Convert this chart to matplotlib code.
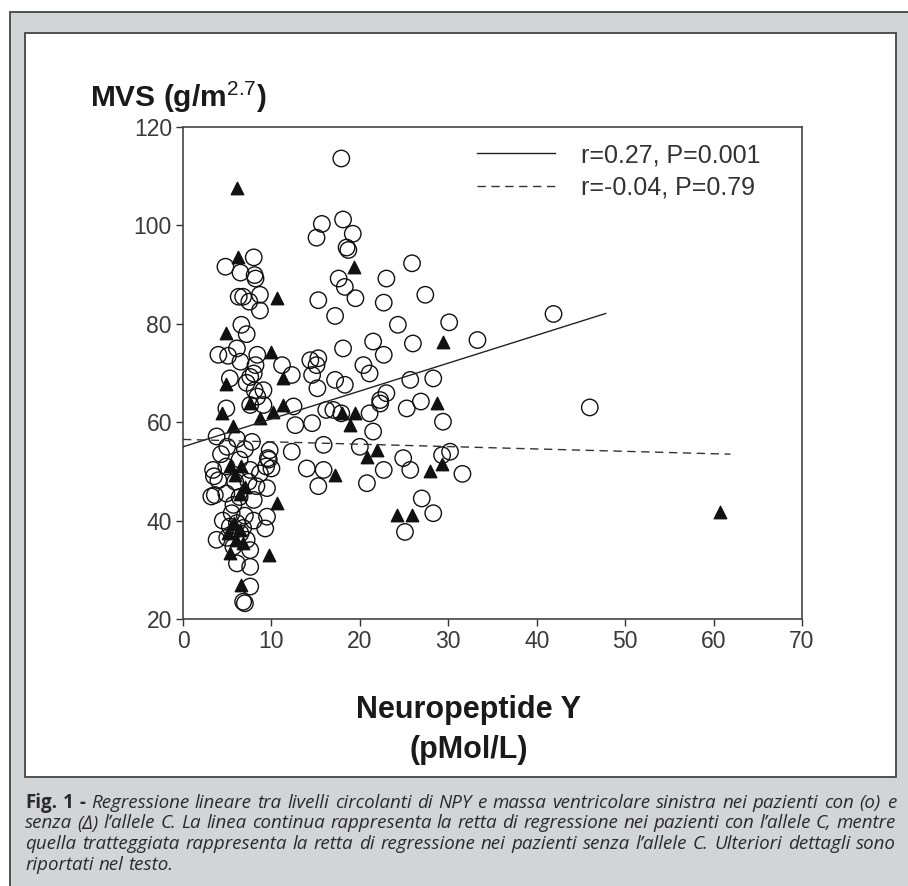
import matplotlib
matplotlib.use("Agg")
import matplotlib.pyplot as plt
from matplotlib.patches import Rectangle

plt.rcParams['font.family'] = ['Liberation Sans', 'DejaVu Sans']
plt.rcParams['mathtext.fontset'] = 'custom'
plt.rcParams['mathtext.rm'] = 'Liberation Sans'

# --- data ---
# patients with the C allele (open circles)
c_x = [17.9, 15.7, 15.1, 18.1, 19.2, 18.5, 18.7, 25.9, 8.0, 4.8, 6.5, 8.1, 8.2,
       23.0, 17.6, 18.3, 19.5, 15.3, 22.7, 27.4, 6.3, 6.8, 8.7, 7.5, 8.7, 17.2, 24.3,
       6.6, 7.2, 26.0, 21.5, 18.1, 22.7, 4.0, 5.1, 6.1, 6.5, 8.4, 8.2, 11.2,
       14.4, 15.3, 15.1, 8.0, 20.4, 21.1, 12.3, 14.6, 15.2, 17.2, 18.3, 5.3, 7.2, 7.6, 8.1, 25.7, 23.0, 22.3,
       30.1, 33.3, 41.9, 28.3, 26.9, 46.0,
       9.1, 8.4, 7.6, 9.1, 4.9, 12.5, 16.2, 12.7, 14.6,
       17.0, 17.9, 21.5, 25.3, 22.3, 21.1, 3.8, 7.8, 6.1, 12.3, 15.9, 20.0, 24.9, 25.7, 22.7,
       9.8, 9.6, 9.4, 14.0, 15.9, 15.3, 20.8,
       29.4, 29.3, 30.2, 31.6, 27.0, 28.3, 25.1,
       3.4, 4.9, 6.4, 7.6, 8.7, 9.7, 10.0, 4.0, 5.9, 7.4, 9.5, 4.9, 6.4, 3.6, 5.7, 8.0, 3.2,
       9.5, 9.3, 3.8, 5.3, 6.1, 6.5, 5.7, 7.2, 7.6, 6.1, 7.6, 7.6, 6.8, 7.0,
       5.0, 6.8, 5.5, 7.0, 8.0, 4.5, 8.3, 4.3, 7.0, 5.0, 3.5]
c_y = [113.6, 100.3, 97.5, 101.2, 98.3, 95.5, 95.0, 92.3, 93.5, 91.6, 90.4, 89.9, 89.2,
       89.2, 89.2, 87.5, 85.2, 84.8, 84.3, 85.9, 85.5, 85.5, 85.9, 84.5, 82.7, 81.6, 79.8,
       79.8, 77.9, 76.0, 76.4, 75.0, 73.7, 73.7, 73.5, 75.0, 72.3, 73.7, 71.6, 71.6,
       72.6, 73.0, 71.6, 69.9, 71.6, 69.9, 69.6, 69.6, 66.9, 68.6, 67.6, 68.9, 68.0, 69.2, 66.5, 68.6, 65.9, 64.5,
       80.3, 76.7, 82.0, 68.9, 64.2, 63.0,
       66.5, 65.2, 63.5, 63.5, 62.8, 63.2, 62.5, 59.4, 59.8,
       62.5, 61.8, 58.1, 62.8, 63.8, 61.8, 57.1, 56.0, 56.6, 54.0, 55.4, 55.0, 52.7, 50.3, 50.3,
       54.3, 52.7, 51.0, 50.6, 50.3, 47.0, 47.6,
       60.1, 53.3, 54.0, 49.5, 44.5, 41.5, 37.7,
       50.3, 51.0, 52.4, 50.3, 49.6, 52.4, 50.6, 48.2, 47.9, 47.9, 46.6, 45.5, 44.8, 45.2, 43.2, 44.2, 44.9,
       40.8, 38.4, 36.1, 38.8, 39.5, 37.4, 34.7, 36.1, 34.0, 31.3, 30.6, 26.6, 23.5, 23.2,
       36.5, 38.5, 41.5, 41.0, 40.0, 40.0, 47.0, 53.5, 54.5, 55.0, 49.0]

# patients without the C allele (filled triangles)
t_x = [6.1, 6.2, 19.3, 10.6, 4.9, 10.0, 11.3, 4.9, 29.4,
       4.4, 7.6, 8.7, 10.2, 11.3, 5.6,
       18.0, 19.4, 18.9, 21.9, 20.8, 17.2,
       28.7, 29.3, 27.9, 24.2, 25.9, 60.7,
       5.3, 6.6, 5.9, 7.0, 6.4, 10.6, 5.1, 5.3, 9.7, 6.6,
       6.0, 6.5, 5.8, 6.8]
t_y = [107.7, 93.5, 91.5, 85.2, 78.1, 74.3, 68.9, 67.8, 76.2,
       61.8, 64.0, 60.8, 62.0, 63.5, 59.3,
       61.8, 61.8, 59.4, 54.3, 53.0, 49.3,
       64.0, 51.6, 50.1, 41.1, 41.1, 41.7,
       51.0, 51.0, 49.3, 46.9, 45.5, 43.5, 37.4, 33.4, 33.0, 26.9,
       36.0, 38.0, 39.5, 35.5]

# regression lines (end points)
fit_c_x = [0, 47.8]
fit_c_y = [55.0, 82.1]
fit_nc_x = [0, 61.9]
fit_nc_y = [56.5, 53.5]

labels = ["r=0.27, P=0.001", "r=-0.04, P=0.79"]
x_ticks = [0, 10, 20, 30, 40, 50, 60, 70]
y_ticks = [20, 40, 60, 80, 100, 120]

W, H = 908, 886
fig = plt.figure(figsize=(W / 100, H / 100), dpi=100)
fig.patch.set_facecolor("white")

# grey page panel + white chart panel
fig.patches.append(Rectangle((10 / W, -0.05), 1.0, 1.05 - 12 / H, transform=fig.transFigure,
                             facecolor="#d3d4d6", edgecolor="#444444", lw=1.3, zorder=-3))
fig.patches.append(Rectangle((25 / W, 1 - 777 / H), (896 - 25) / W, (777 - 33) / H,
                             transform=fig.transFigure, facecolor="white",
                             edgecolor="#444444", lw=1.3, zorder=-2))

ax = fig.add_axes([183 / W, 1 - 619 / H, (802 - 183) / W, (619 - 127) / H])
ax.set_xlim(0, 70)
ax.set_ylim(20, 120)

ax.scatter(c_x, c_y, s=140, facecolors="none", edgecolors="#111111", linewidths=1.0, zorder=2)
ax.scatter(t_x, t_y, marker="^", s=80, color="#111111", zorder=3)

l1, = ax.plot(fit_c_x, fit_c_y, color="#222222", lw=1.0, zorder=4)
l2, = ax.plot(fit_nc_x, fit_nc_y, color="#333333", lw=1.0, dashes=(6, 4), zorder=4)

ax.set_xticks(x_ticks)
ax.set_yticks(y_ticks)
ax.tick_params(direction="out", length=5, width=1.0, color="#333333",
               labelsize=16.5, labelcolor="#3a3a3a", pad=3)
for sp in ax.spines.values():
    sp.set_color("#444444")
    sp.set_linewidth(1.2)

ax.legend([l1, l2], labels, frameon=False, loc="upper left",
          bbox_to_anchor=(477 / W, 1 - 143 / H), bbox_transform=fig.transFigure,
          borderpad=0, borderaxespad=0, handlelength=3.1, handletextpad=1.05,
          labelspacing=0.33, prop={"size": 18}, labelcolor="#333333")

fig.text(90 / W, 1 - 97 / H, r"MVS (g/m$^{2.7}$)", fontsize=21.5, fontweight="bold",
         ha="left", va="center", color="#1a1a1a")
fig.text(469 / W, 1 - 710 / H, "Neuropeptide Y", fontsize=22, fontweight="bold",
         ha="center", va="center", color="#1a1a1a")
fig.text(469 / W, 1 - 750 / H, "(pMol/L)", fontsize=22, fontweight="bold",
         ha="center", va="center", color="#1a1a1a")

# caption, justified line by line
cap_lines = [
    "Fig. 1 - Regressione lineare tra livelli circolanti di NPY e massa ventricolare sinistra nei pazienti con (o) e",
    "senza (\u2206) l\u2019allele C. La linea continua rappresenta la retta di regressione nei pazienti con l\u2019allele C, mentre",
    "quella tratteggiata rappresenta la retta di regressione nei pazienti senza l\u2019allele C. Ulteriori dettagli sono",
    "riportati nel testo.",
]
cap_base = [808, 828.5, 849, 869.5]
cap_family = ["Open Sans", "DejaVu Sans"]
renderer = fig.canvas.get_renderer()


def caption_words(i, line, size):
    out = []
    for j, w in enumerate(line.split(" ")):
        bold = (i == 0 and j < 3)
        t = fig.text(0, 1 - cap_base[i] / H, w, fontsize=size, family=cap_family,
                     fontweight="bold" if bold else "normal",
                     style="normal" if bold else "italic",
                     va="baseline", ha="left", color="#2a2a2a")
        out.append(t)
    return out


# pick a size so that the first line fits with ordinary word spaces
probe = caption_words(0, cap_lines[0], 12)
natural = sum(t.get_window_extent(renderer).width for t in probe) + (len(probe) - 1) * 0.26 * 12 * 100 / 72
for t in probe:
    t.remove()
cap_size = min(13.5, 12 * 871 / natural)
space = 0.26 * cap_size * 100 / 72

for i, line in enumerate(cap_lines):
    texts = caption_words(i, line, cap_size)
    widths = [t.get_window_extent(renderer).width for t in texts]
    gap = (896 - 25 - sum(widths)) / (len(texts) - 1) if i < 3 else space
    x = 25
    for t, w in zip(texts, widths):
        t.set_x(x / W)
        x += w + gap

fig.savefig("out.png", dpi=100)
